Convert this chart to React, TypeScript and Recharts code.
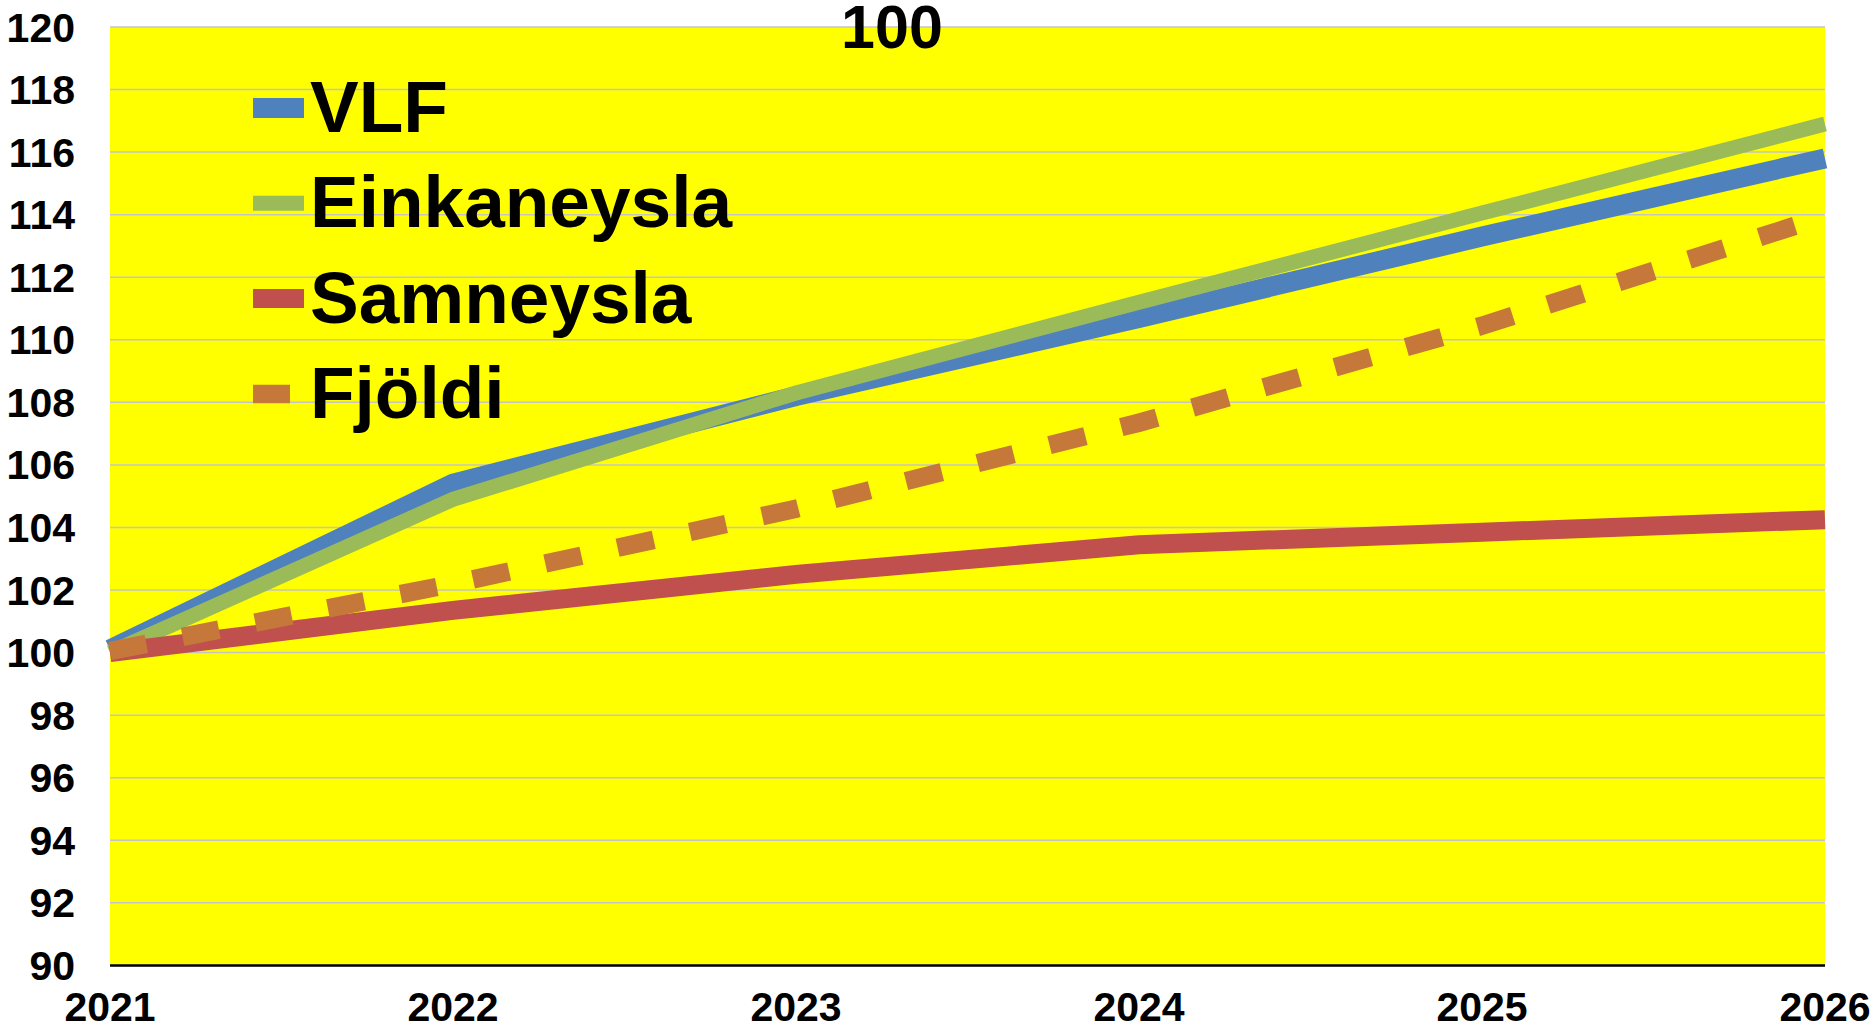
import React from "react";
import { LineChart, Line, XAxis, YAxis, CartesianGrid, Legend } from "recharts";

const years = ["2021", "2022", "2023", "2024", "2025", "2026"];
const vlf = [100.1, 105.4, 108.2, 110.7, 113.3, 115.8];
const einkaneysla = [100.0, 104.9, 108.3, 111.2, 114.05, 116.9];
const samneysla = [100.0, 101.35, 102.5, 103.45, 103.85, 104.25];
const fjoldi = [100.05, 102.2, 104.6, 107.35, 110.45, 113.95];
const yTicks = [90, 92, 94, 96, 98, 100, 102, 104, 106, 108, 110, 112, 114, 116, 118, 120];
const title = "100";

const data = years.map((year, i) => ({
  year,
  vlf: vlf[i],
  einkaneysla: einkaneysla[i],
  samneysla: samneysla[i],
  fjoldi: fjoldi[i],
}));

const FONT = "'Liberation Sans', Arial, sans-serif";

const seriesStyle = [
  { key: "vlf", name: "VLF", color: "#4F81BD", width: 20 },
  { key: "einkaneysla", name: "Einkaneysla", color: "#9BBB59", width: 15 },
  { key: "samneysla", name: "Samneysla", color: "#C0504D", width: 19 },
  { key: "fjoldi", name: "Fjöldi", color: "#C6783A", width: 18.5, dash: "37 37" },
];

function LegendBox() {
  return (
    <svg width={900} height={450} style={{ display: "block", overflow: "visible" }}>
      {seriesStyle.map((s, i) => {
        const base = 132 + i * 95.3;
        const cy = base - 24;
        return (
          <g key={s.key}>
            <line
              x1={253}
              x2={304}
              y1={cy}
              y2={cy}
              stroke={s.color}
              strokeWidth={s.width}
              strokeDasharray={s.dash}
            />
            <text x={310} y={base} fontSize={73} fontWeight="bold" fontFamily={FONT} fill="#000">
              {s.name}
            </text>
          </g>
        );
      })}
    </svg>
  );
}

export default function App() {
  const tickStyle = { fontSize: 41, fontWeight: "bold", fill: "#000", fontFamily: FONT };
  return (
    <div style={{ position: "absolute", left: 0, top: 0, width: 1870, height: 1031, background: "#fff" }}>
      <LineChart
        width={1870}
        height={1031}
        data={data}
        margin={{ top: 27, right: 45, bottom: 0.6, left: 0 }}
      >
        <CartesianGrid vertical={false} fill="#FFFF00" stroke="#C4C4C4" strokeWidth={1.5} />
        <XAxis
          dataKey="year"
          interval={0}
          height={65}
          tickLine={false}
          tickSize={0}
          tickMargin={26}
          axisLine={{ stroke: "#000", strokeWidth: 2.5 }}
          tick={tickStyle}
        />
        <YAxis
          domain={[90, 120]}
          ticks={yTicks}
          width={110}
          axisLine={false}
          tickLine={false}
          tickSize={0}
          tickMargin={35}
          tick={tickStyle}
        />
        <Legend
          layout="vertical"
          align="center"
          verticalAlign="middle"
          wrapperStyle={{ left: 0, top: 0, width: 900, height: 450, overflow: "visible" }}
          content={() => <LegendBox />}
        />
        {seriesStyle.map((s) => (
          <Line
            key={s.key}
            type="linear"
            dataKey={s.key}
            name={s.name}
            stroke={s.color}
            strokeWidth={s.width}
            strokeDasharray={s.dash}
            dot={false}
            activeDot={false}
            isAnimationActive={false}
          />
        ))}
      </LineChart>
      <svg
        width={1870}
        height={80}
        style={{ position: "absolute", left: 0, top: 0, pointerEvents: "none" }}
      >
        <text x={892} y={48} textAnchor="middle" fontSize={61} fontWeight="bold" fontFamily={FONT} fill="#000">
          {title}
        </text>
      </svg>
    </div>
  );
}
